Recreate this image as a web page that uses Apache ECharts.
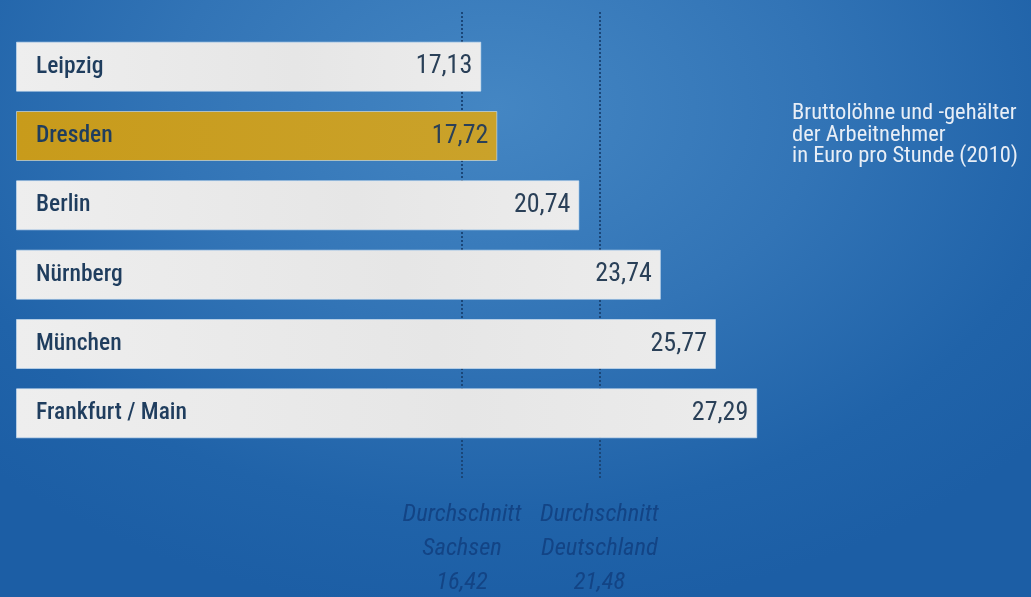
<!DOCTYPE html>
<html>
<head>
<meta charset="utf-8">
<script src="https://cdn.jsdelivr.net/npm/echarts@6/dist/echarts.min.js"></script>
<style>
html,body{margin:0;padding:0;}
#c{width:1031px;height:597px;background:radial-gradient(ellipse 70% 85% at 48% 18%, #4486c3 0%, #3274b6 45%, #2063a9 80%, #1c5ea5 100%);}
</style>
</head>
<body>
<div id="c"></div>
<script>
const categories = ['Leipzig', 'Dresden', 'Berlin', 'Nürnberg', 'München', 'Frankfurt / Main'];
const values = [17.13, 17.72, 20.74, 23.74, 25.77, 27.29];
const highlight = 'Dresden';
const averageNames = ['Durchschnitt\nSachsen', 'Durchschnitt\nDeutschland'];
const averageValues = [16.42, 21.48];
const noteText = 'Bruttolöhne und -gehälter\nder Arbeitnehmer\nin Euro pro Stunde (2010)';

const FONT = '"Roboto Condensed", "Liberation Sans Narrow", "Roboto", sans-serif';
const fmt = v => v.toFixed(2).replace('.', ',');

const whiteFill = {type:'linear', x:0, y:0, x2:1, y2:0, colorStops:[
  {offset:0, color:'#eeeeee'}, {offset:0.6, color:'#e6e6e6'}, {offset:1, color:'#ececec'}]};
const goldFill = {type:'linear', x:0, y:0, x2:1, y2:0, colorStops:[
  {offset:0, color:'#c89b1b'}, {offset:1, color:'#caa22a'}]};

const chart = echarts.init(document.getElementById('c'), null, {renderer:'canvas'});
chart.setOption({
  animation: false,
  textStyle: {fontFamily: FONT},
  title: {
    text: noteText, left: 792, top: 103, padding: 0,
    textStyle: {color:'#e8eef6', fontSize: 22.5, fontWeight: 'normal', lineHeight: 21.5, fontFamily: FONT}
  },
  grid: [
    {left: 16, right: 10, top: 32, bottom: 149},
    {left: 16, right: 10, top: 10, bottom: 119}
  ],
  xAxis: [
    {type:'value', gridIndex:0, min:0, max:37, show:false},
    {type:'value', gridIndex:1, min:0, max:37, show:false}
  ],
  yAxis: [
    {type:'category', gridIndex:0, data: categories, inverse: true, z: 10,
     axisLine:{show:false}, axisTick:{show:false}, splitLine:{show:false},
     axisLabel:{inside:true, margin:20, color:'#1f3d5e', fontSize:23.5, fontWeight:500, fontFamily: FONT}},
    {type:'value', gridIndex:1, min:0, max:1, show:false}
  ],
  series: [
    {
      type:'scatter', xAxisIndex:1, yAxisIndex:1, z:0, symbolSize:0, silent:true,
      data: averageValues.map(v => [v, 0]),
      markLine: {
        z: 0,
        symbol:['none','none'], silent:true,
        lineStyle:{color:'#1a4678', width:2, type:[2,2]},
        label:{
          show:true, position:'start', distance:20,
          color:'#134485', fontSize:24.5, fontStyle:'italic', lineHeight:34, fontFamily: FONT,
          formatter: p => averageNames[p.dataIndex] + '\n' + fmt(p.value)
        },
        data: averageValues.map(v => ({xAxis: v}))
      }
    },
    {
      type:'bar', xAxisIndex:0, yAxisIndex:0, z:5, barWidth:50,
      data: values.map((v, i) => ({
        value: v,
        itemStyle: {color: categories[i] === highlight ? goldFill : whiteFill,
                    borderColor:'rgba(210,228,245,0.6)', borderWidth:1}
      })),
      label: {
        show:true, position:'insideRight', distance:9,
        color:'#2a4058', fontSize:26, fontFamily: FONT,
        formatter: p => fmt(p.value)
      }
    }
  ]
});
</script>
</body>
</html>
